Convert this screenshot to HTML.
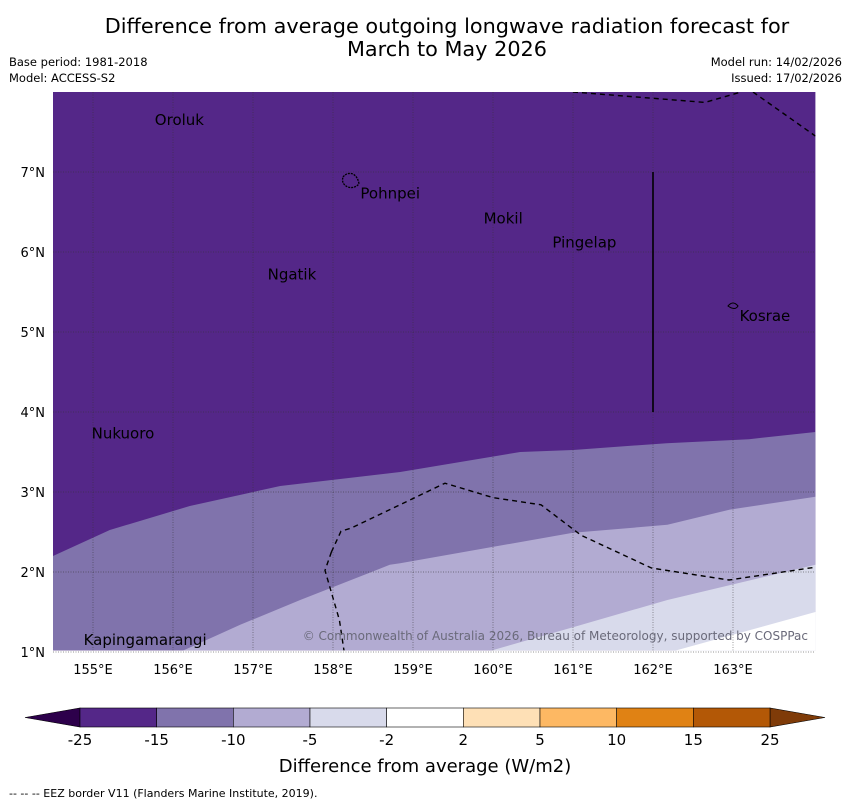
<!DOCTYPE html>
<html><head><meta charset="utf-8"><style>
body{margin:0;background:#fff;font-family:"DejaVu Sans","Liberation Sans",sans-serif}
svg text{font-family:"DejaVu Sans","Liberation Sans",sans-serif}
</style></head><body>
<svg id="c" width="850" height="804" xmlns="http://www.w3.org/2000/svg">
<text x="447" y="33" font-size="20.8" text-anchor="middle">Difference from average outgoing longwave radiation forecast for</text>
<text x="447" y="56" font-size="20.8" text-anchor="middle">March to May 2026</text>
<text x="9" y="66" font-size="11.5">Base period: 1981-2018</text>
<text x="9" y="82" font-size="11.5">Model: ACCESS-S2</text>
<text x="842" y="66" font-size="11.5" text-anchor="end">Model run: 14/02/2026</text>
<text x="842" y="82" font-size="11.5" text-anchor="end">Issued: 17/02/2026</text>
<g id="map"></g>
<g id="cb"></g>
<text x="425" y="772" font-size="18" text-anchor="middle">Difference from average (W/m2)</text>
<text x="9" y="797" font-size="11">--  --  -- EEZ border V11 (Flanders Marine Institute, 2019).</text>
</svg>
<script>
const lonTicks=[155,156,157,158,159,160,161,162,163];
const latTicks=[1,2,3,4,5,6,7];
// contour boundaries [lon,lat]
const bnd15=[[154.5,2.2],[155.21,2.525],[156.21,2.825],[157.34,3.075],[158.84,3.25],[160.34,3.5],[161.0,3.525],[162.17,3.61],[163.2,3.66],[164.03,3.75]];
const bnd10=[[156.03,0.975],[156.84,1.34],[157.59,1.65],[158.71,2.09],[158.84,2.11],[161.0,2.49],[162.18,2.59],[162.96,2.78],[164.03,2.94]];
const bnd5=[[159.88,0.99],[161.0,1.31],[162.18,1.65],[164.03,2.09]];
const bnd2=[[162.18,0.99],[164.03,1.5]];
const levels=[-15,-10,-5,-2];
const places=[["Oroluk",155.76,7.65],["Pohnpei",158.33,6.73],["Mokil",159.87,6.42],["Pingelap",160.73,6.12],["Ngatik",157.17,5.72],["Kosrae",163.07,5.2],["Nukuoro",154.97,3.73],["Kapingamarangi",154.87,1.15]];
const eez1=[[157.98,2.25],[158.1,2.51],[158.23,2.55],[159.4,3.11],[160.0,2.93],[160.6,2.84],[161.1,2.46],[161.98,2.05],[162.95,1.9],[164.03,2.06]];
const eez2=[[157.98,2.25],[157.9,2.02],[158.08,1.4],[158.14,1.0]];
const eez3=[[161.0,8],[162.65,7.87],[163.1,8]];
const eez4=[[163.25,8],[164.03,7.45]];
const cbLabels=["-25","-15","-10","-5","-2","2","5","10","15","25"];
const cbColors=["#542788","#8073ac","#b2abd2","#d8daeb","#ffffff","#fee0b6","#fdb863","#e08214","#b35806"];
const NS="http://www.w3.org/2000/svg";
const X=l=>53+(l-154.5)*80, Y=a=>92+(8-a)*80;
const lonMax=164.03, latMin=1.02;
function mk(t,a,p){const e=document.createElementNS(NS,t);for(const k in a)e.setAttribute(k,a[k]);(p||map).appendChild(e);return e;}
const map=document.getElementById('map');
const x0=X(154.5),x1=X(lonMax),y0=Y(8),y1=Y(latMin);
const cp=mk('clipPath',{id:'cl'});mk('rect',{x:x0,y:y0,width:x1-x0,height:y1-y0},cp);
mk('rect',{x:x0,y:y0,width:x1-x0,height:y1-y0,fill:cbColors[0]});
const fills=["#8073ac","#b2abd2","#d8daeb","#ffffff"];
[bnd15,bnd10,bnd5,bnd2].forEach((b,i)=>{
 const pts=b.map(p=>X(p[0])+','+Y(p[1])).join(' L');
 const d='M'+pts+` L${x1+5},${Y(b[b.length-1][1])} L${x1+5},${y1+5} L${X(b[0][0])},${y1+5} Z`;
 const e=mk('path',{d:d,fill:fills[i],'clip-path':'url(#cl)'});
 
 
});
lonTicks.forEach(l=>{
 const e=mk('line',{x1:X(l),x2:X(l),y1:y0,y2:y1,stroke:'#333','stroke-width':0.7,'stroke-dasharray':'1,1.5',opacity:0.7});
 
 const t=mk('text',{x:X(l),y:674,'font-size':13,'text-anchor':'middle'});t.textContent=l+'°E';
 
});
latTicks.forEach(a=>{
 const e=mk('line',{x1:x0,x2:x1,y1:Y(a),y2:Y(a),stroke:'#333','stroke-width':0.7,'stroke-dasharray':'1,1.5',opacity:0.7});
 
 const t=mk('text',{x:45,y:Y(a)+5,'font-size':13,'text-anchor':'end'});t.textContent=a+'°N';
 
});
[eez1,eez2,eez3,eez4].forEach(b=>{
 const e=mk('polyline',{points:b.map(p=>X(p[0])+','+Y(p[1])).join(' '),fill:'none',stroke:'#000','stroke-width':1.4,'stroke-dasharray':'5,4','clip-path':'url(#cl)'});
 
});
const vl=mk('line',{x1:X(162),x2:X(162),y1:Y(7),y2:Y(4),stroke:'#000','stroke-width':1.6});

mk('path',{d:'M343,177 q4,-5 10,-3 q5,3 6,10 q-5,5 -11,3 q-7,-3 -5,-10z',fill:'none',stroke:'#000','stroke-width':1.3,'stroke-dasharray':'2,1'});
mk('path',{d:'M728,306 q5,-6 10,0 q-3,5 -10,0z',fill:'none',stroke:'#000','stroke-width':1});
places.forEach(p=>{
 const t=mk('text',{x:X(p[1])+1,y:Y(p[2])+5,'font-size':15});t.textContent=p[0];
 
});
const cr=mk('text',{x:808,y:640,'font-size':12,'text-anchor':'end',fill:'#6a6a7a'});cr.textContent='© Commonwealth of Australia 2026, Bureau of Meteorology, supported by COSPPac';

// colorbar
const cb=document.getElementById('cb');const cx0=80,cw=690/9,cy=708,ch=19;
mk('polygon',{points:`${cx0},${cy} ${cx0},${cy+ch} 25,${cy+ch/2}`,fill:'#2d004b',stroke:'#000','stroke-width':0.6},cb);
mk('polygon',{points:`${cx0+690},${cy} ${cx0+690},${cy+ch} 825,${cy+ch/2}`,fill:'#7f3b08',stroke:'#000','stroke-width':0.6},cb);
cbColors.forEach((c,i)=>{
 const r=mk('rect',{x:cx0+i*cw,y:cy,width:cw,height:ch,fill:c,stroke:'#000','stroke-width':0.6},cb);
 
});
cbLabels.forEach((s,i)=>{
 const t=mk('text',{x:cx0+i*cw,y:745,'font-size':15,'text-anchor':'middle'},cb);t.textContent=s;
 
});
</script>
</body></html>
